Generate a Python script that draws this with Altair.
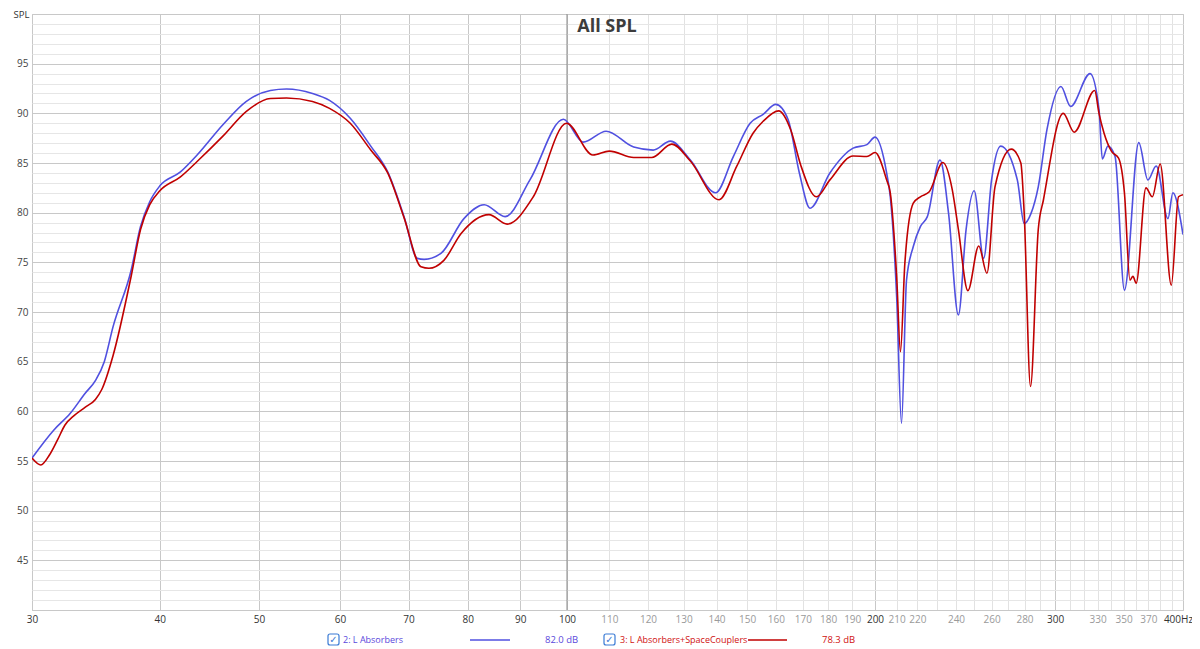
import altair as alt
import pandas as pd

# ---- data (frequency in Hz, SPL in dB) ----
blue_freq = [30, 31.5, 32.7, 33.8, 34.6, 35.3, 36.0, 37.5, 38.3, 39.1, 40, 41.9, 43.5,
             46.1, 48.6, 51.3, 53.2, 56.4, 58.6, 61.4, 64.3, 66.8, 69.3, 71.4, 72.5,
             75.3, 79.3, 83.0, 87.0, 92.0, 99.2, 103.7, 109.2, 116.2, 121.4, 126.2,
             132, 139.7, 145.4, 151, 155.5, 160, 164.5, 168.7, 172.8, 180.7, 190.4,
             196.4, 200, 205.3, 207, 210, 212.3, 214.7, 218, 221.5, 225, 231.5, 236,
             241.3, 245.5, 250, 255.4, 260, 265.4, 275.5, 279.8, 284.2, 288.8, 294.5,
             303.9, 310.6, 324.5, 331.1, 333.6, 337.8, 343.3, 350.6, 362.1, 369.6,
             376.6, 386.7, 391, 400]
blue_spl = [55.3, 58.1, 59.8, 61.8, 63.1, 65.0, 68.5, 74.2, 78.6, 81.1, 82.7, 84.1, 85.8,
            88.85, 91.2, 92.3, 92.45, 92.0, 91.3, 89.5, 86.7, 84.1, 79.6, 75.4, 75.3,
            75.9, 79.4, 80.8, 79.6, 83.3, 89.4, 87.1, 88.2, 86.6, 86.3, 87.2,
            85.3, 82.0, 85.65, 89.0, 89.9, 90.9, 89.35, 84.0, 80.45, 84.0, 86.5,
            86.85, 87.6, 84.0, 81.6, 71.5, 58.8, 73.2, 76.6, 78.6, 79.6, 85.3, 79.95,
            69.7, 78.3, 82.2, 75.4, 83.3, 86.7, 83.3, 78.9, 79.95, 82.6, 88.35,
            92.7, 90.7, 94.0, 90.4, 85.4, 86.7, 85.65, 72.2, 87.05, 83.3,
            84.7, 79.4, 82.0, 77.8]

red_freq = [30, 30.6, 31.2, 31.8, 32.3, 33.0, 33.8, 34.6, 35.1, 36.0, 37.5, 38.3, 39.1,
            40, 41.9, 43.5, 46.1, 48.6, 51.3, 53.2, 56.4, 58.6, 61.4, 64.3, 66.8,
            69.3, 72.0, 73.3, 75.8, 78.8, 83.9, 87.4, 92.7, 99.9, 106, 110, 116.2,
            121, 126.6, 132, 140.8, 146.5, 152, 155.5, 161, 165.5, 169.2, 175.3,
            180.7, 190.4, 196.4, 200, 205.3, 207, 210, 211.8, 213.9, 218, 221.5, 226,
            233, 238, 241.3, 246.5, 252.6, 257.3, 262, 271.8, 277.7, 279.8, 283.8,
            288.8, 292.2, 305.5, 313.1, 327.9, 331.1, 334.9, 340.7, 346, 350.6, 355,
            357.4, 360, 368, 373.3, 380, 389.6, 396, 400]
red_spl = [55.3, 54.6, 55.6, 57.2, 58.6, 59.6, 60.4, 61.2, 62.2, 65.6, 73.6, 78.3, 80.8,
           82.2, 83.6, 85.15, 87.7, 90.2, 91.5, 91.55, 91.2, 90.5, 89.0, 86.3, 84.0,
           79.5, 74.55, 74.4, 75.2, 77.9, 79.8, 78.85, 81.6, 89.0, 85.8, 86.2, 85.55,
           85.55, 86.9, 85.2, 81.3, 84.65, 88.0, 89.2, 90.25, 88.3, 84.8, 81.6,
           83.3, 85.7, 85.65, 86.05, 83.3, 82.0, 73.55, 66.0, 74.9, 80.95, 81.6, 82.1,
           85.05, 82.3, 78.3, 72.15, 76.65, 73.9, 82.6, 86.4, 85.0, 79.95, 62.5,
           78.3, 81.3, 90.0, 88.1, 92.3, 90.0, 88.0, 86.15, 85.5, 82.0, 73.2,
           73.6, 72.9, 82.5, 81.6, 84.9, 72.7, 81.6, 81.8]

series_names = ["2: L Absorbers", "3: L Absorbers+SpaceCouplers"]
series_levels = ["82.0 dB", "78.3 dB"]
series_colors = ["#5050e0", "#c00000"]
series_text_colors = ["#5a48dc", "#d01010"]

x_grid = [30, 40, 50, 60, 70, 80, 90, 100] + list(range(110, 401, 10))
x_labels = [30, 40, 50, 60, 70, 80, 90, 100, 110, 120, 130, 140, 150, 160, 170, 180,
            190, 200, 210, 220, 240, 260, 280, 300, 330, 350, 370, 400]
x_major = [30, 40, 50, 60, 70, 80, 90, 100, 200, 300, 400]
y_grid = list(range(40, 101))
cursor_freq = [100]

W, H = 1151, 596
FONT = "Open Sans"

blue_df = pd.DataFrame({"freq": blue_freq, "spl": blue_spl})
red_df = pd.DataFrame({"freq": red_freq, "spl": red_spl})
cursor_df = pd.DataFrame({"freq": cursor_freq})

label_test = " || ".join(f"datum.value == {v}" for v in x_labels)
major_test = " || ".join(f"datum.value == {v}" for v in x_major)

x_scale = alt.Scale(type="log", domain=[30, 400], nice=False)
y_scale = alt.Scale(domain=[40, 100], nice=False, zero=False)

x_axis = alt.Axis(
    values=x_grid,
    labelExpr=f"datum.value == 400 ? '400Hz' : (({label_test}) ? '' + datum.value : '')",
    labelColor={"condition": {"test": major_test, "value": "#333333"}, "value": "#9a9a9a"},
    gridColor={"condition": {"test": major_test, "value": "#c8c8c8"}, "value": "#e2e2e2"},
    labelOffset={"condition": {"test": "datum.value == 400", "value": -5}, "value": 0},
    grid=True, ticks=False, domain=False, labelOverlap=False, labelFlush=False,
    labelPadding=4, labelFontSize=10, labelFont=FONT, title=None,
)
y_axis = alt.Axis(
    values=y_grid,
    labelExpr="(datum.value % 5 == 0 && datum.value > 40 && datum.value < 100) ? '' + datum.value : ''",
    gridColor={"condition": {"test": "datum.value % 5 == 0", "value": "#c8c8c8"}, "value": "#e6e6e6"},
    grid=True, ticks=False, domain=False, labelOverlap=False, labelFlush=False,
    labelPadding=4, labelFontSize=10, labelFont=FONT, labelColor="#444444",
    title="SPL", titleAngle=0, titleX=-11, titleY=-5, titleAlign="center",
    titleBaseline="top", titleFontSize=9.5, titleFontWeight="normal",
    titleFont=FONT, titleColor="#333333",
)

X = alt.X("freq:Q", scale=x_scale, axis=x_axis)
Y = alt.Y("spl:Q", scale=y_scale, axis=y_axis)

cursor = alt.Chart(cursor_df).mark_rule(color="#8c8c8c", strokeWidth=1).encode(x=X)

blue_line = alt.Chart(blue_df).mark_line(
    color=series_colors[0], strokeWidth=1.6, interpolate="monotone", clip=True
).encode(x=X, y=Y)
red_line = alt.Chart(red_df).mark_line(
    color=series_colors[1], strokeWidth=1.6, interpolate="monotone", clip=True
).encode(x=X, y=Y)

one = pd.DataFrame({"k": [0]})

title = alt.Chart(one).mark_text(
    text="All SPL", font=FONT, fontSize=18, fontWeight="bold", color="#3c3c3c",
    align="center", baseline="middle"
).encode(x=alt.value(575), y=alt.value(13))

LY = 626
legend_layers = []
legend_spec = [
    # checkbox x, text x, line x1, line x2, level x
    (296, 311, 438, 478, 513),
    (572, 588, 716, 755, 790),
]
for i, (cbx, tx, lx1, lx2, vx) in enumerate(legend_spec):
    legend_layers.append(
        alt.Chart(one).mark_rect(
            fill="white", stroke="#3a7bd5", strokeWidth=1.2, cornerRadius=2
        ).encode(x=alt.value(cbx), x2=alt.value(cbx + 11),
                 y=alt.value(LY - 6), y2=alt.value(LY + 5))
    )
    legend_layers.append(
        alt.Chart(one).mark_text(
            text="✓", font="DejaVu Sans", fontSize=10, fontWeight="bold",
            color="#3a7bd5", align="center", baseline="middle"
        ).encode(x=alt.value(cbx + 5.5), y=alt.value(LY))
    )
    legend_layers.append(
        alt.Chart(one).mark_text(
            text=series_names[i], font=FONT, fontSize=9, color=series_text_colors[i],
            align="left", baseline="middle"
        ).encode(x=alt.value(tx), y=alt.value(LY))
    )
    legend_layers.append(
        alt.Chart(one).mark_rule(color=series_colors[i], strokeWidth=1.6).encode(
            x=alt.value(lx1), x2=alt.value(lx2), y=alt.value(LY)
        )
    )
    legend_layers.append(
        alt.Chart(one).mark_text(
            text=series_levels[i], font=FONT, fontSize=9.5, color=series_text_colors[i],
            align="left", baseline="middle"
        ).encode(x=alt.value(vx), y=alt.value(LY))
    )

chart = alt.layer(cursor, blue_line, red_line, title, *legend_layers).properties(
    width=W, height=H,
    autosize=alt.AutoSizeParams(type="none"),
    padding={"left": 24, "top": 6, "right": 9, "bottom": 38},
    background="white",
).configure_view(stroke="#c8c8c8", strokeWidth=1)

chart.save("out.html", embed_options={"renderer": "svg", "actions": False})
